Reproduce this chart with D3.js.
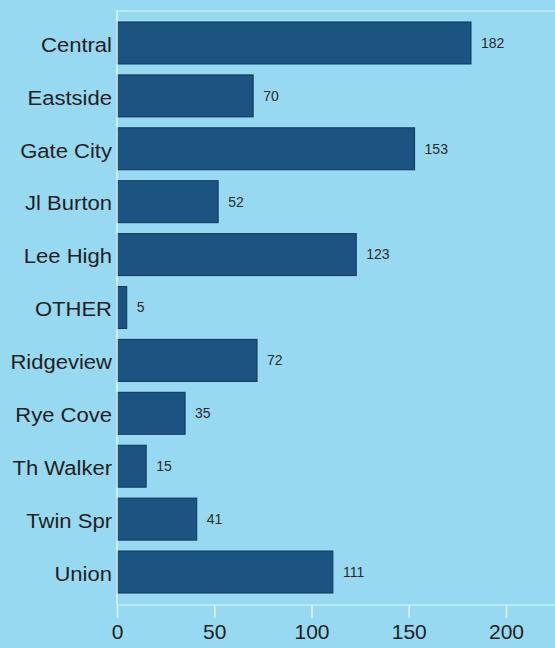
<!DOCTYPE html>
<html>
<head>
<meta charset="utf-8">
<script src="https://cdn.jsdelivr.net/npm/d3@7"></script>
<style>
  body { margin: 0; background: #96d9f1; }
  svg { display: block; font-family: "Liberation Sans", Arial, sans-serif; }
</style>
</head>
<body>
<svg id="chart" width="555" height="648"></svg>
<script>
// school counts
var schools = ["Central", "Eastside", "Gate City", "Jl Burton", "Lee High", "OTHER",
               "Ridgeview", "Rye Cove", "Th Walker", "Twin Spr", "Union"];
var counts = [182, 70, 153, 52, 123, 5, 72, 35, 15, 41, 111];
var xTicks = [0, 50, 100, 150, 200];

var svg = d3.select("#chart");
var W = 555, H = 648;
var plotLeft = 117, plotTop = 16.7, plotBottom = 598.3, axisY = 605;

svg.append("rect").attr("width", W).attr("height", H).attr("fill", "#96d9f1");

var x = d3.scaleLinear().domain([0, 200]).range([plotLeft, 506]);
var y = d3.scaleBand().domain(schools).range([plotTop, plotBottom])
  .paddingInner(0.206).paddingOuter(0.1);

// faint frame line at top
svg.append("line").attr("x1", plotLeft).attr("x2", W).attr("y1", 11).attr("y2", 11)
  .attr("stroke", "#c4ecf8").attr("stroke-width", 1.5);

var data = schools.map(function(s, i) { return {name: s, value: counts[i]}; });

svg.selectAll("rect.bar").data(data).enter().append("rect")
  .attr("class", "bar")
  .attr("x", x(0))
  .attr("y", function(d) { return y(d.name); })
  .attr("width", function(d) { return x(d.value) - x(0); })
  .attr("height", y.bandwidth())
  .attr("fill", "#1b5381")
  .attr("stroke", "#10365a")
  .attr("stroke-width", 1);

svg.selectAll("text.val").data(data).enter().append("text")
  .attr("class", "val")
  .attr("x", function(d) { return x(d.value) + 10; })
  .attr("y", function(d) { return y(d.name) + y.bandwidth() / 2; })
  .attr("dy", "0.35em")
  .attr("font-size", 14)
  .attr("fill", "#2a2a2a")
  .text(function(d) { return d.value; });

// y axis - labels look a bit wide in the scan, stretch them
var yAxis = svg.append("g").attr("transform", "translate(" + plotLeft + ",0)")
  .call(d3.axisLeft(y).tickSize(0).tickPadding(5));
yAxis.select(".domain").attr("stroke", "#e4f6fc").attr("stroke-width", 1.5)
  .attr("d", "M0,10V" + axisY);
yAxis.selectAll("text").attr("font-size", 19.5).attr("fill", "#1e1e1e")
  .attr("x", -5 / 1.13)
  .attr("dy", "0.45em")
  .attr("transform", "scale(1.13,1)");

// x axis
var xAxis = svg.append("g").attr("transform", "translate(0," + axisY + ")")
  .call(d3.axisBottom(x).tickValues(xTicks).tickSize(13).tickPadding(6));
xAxis.select(".domain").attr("stroke", "#c4ecf8").attr("stroke-width", 1.5)
  .attr("d", "M" + plotLeft + ",0H" + W);
xAxis.selectAll(".tick line").attr("stroke", "#e4f6fc").attr("stroke-width", 1.5);
xAxis.selectAll("text").attr("font-size", 21).attr("fill", "#1e1e1e");
</script>
</body>
</html>
